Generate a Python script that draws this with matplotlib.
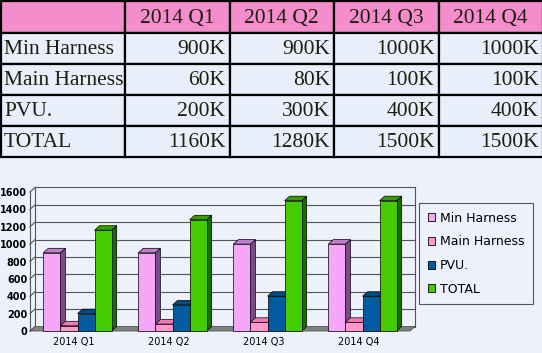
""" Quarterly harness volumes: table plus 3D-style bar chart """

import matplotlib.pyplot as plt
import numpy as np
from matplotlib.patches import Patch, Polygon, Rectangle

# Data
quarters = ["2014 Q1", "2014 Q2", "2014 Q3", "2014 Q4"]
series_names = ["Min Harness", "Main Harness", "PVU.", "TOTAL"]
min_harness = [900, 900, 1000, 1000]
main_harness = [60, 80, 100, 100]
pvu = [200, 300, 400, 400]
total = [1160, 1280, 1500, 1500]
y_ticks = [0, 200, 400, 600, 800, 1000, 1200, 1400, 1600]

# Colours: (front, top, side)
bar_colors = [
    ("#F5A6F8", "#BC80CC", "#7B4A8C"),
    ("#FF99CC", "#F07AB8", "#B0608A"),
    ("#005C9E", "#004A80", "#003B66"),
    ("#44CC00", "#2FA000", "#1D6A00"),
]
BG = "#EDF1FB"
CELL_BG = "#E8EEFA"
HEADER_BG = "#F58CCB"
TEXT_C = "#1E1E0E"

W, H = 542, 353
fig = plt.figure(figsize=(W / 100, H / 100), dpi=100)
fig.patch.set_facecolor(BG)

# ---------------- Table ----------------
tab = fig.add_axes([0, 1 - 160 / H, 1, 160 / H])
tab.set_xlim(0, W)
tab.set_ylim(160, 0)
tab.axis("off")

col_w = [124, 104.5, 104.5, 104.5, 104.5]
col_x = np.concatenate([[1], 1 + np.cumsum(col_w)])
row_h = [32, 31, 31, 31, 31]
row_y = np.concatenate([[1], 1 + np.cumsum(row_h)])

table_values = [min_harness, main_harness, pvu, total]
for r in range(5):
    for c in range(5):
        x0, x1 = col_x[c], col_x[c + 1]
        y0, y1 = row_y[r], row_y[r + 1]
        face = HEADER_BG if r == 0 else CELL_BG
        tab.add_patch(Rectangle((x0, y0), x1 - x0, y1 - y0, facecolor=face,
                                edgecolor="black", linewidth=1.6))
        ymid = (y0 + y1) / 2 + 1
        if r == 0 and c > 0:
            tab.text((x0 + x1) / 2, ymid, quarters[c - 1], ha="center", va="center",
                     family="Liberation Serif", fontsize=15.5, color=TEXT_C)
        elif r > 0 and c == 0:
            tab.text(x0 + 3, ymid, series_names[r - 1], ha="left", va="center",
                     family="Liberation Serif", fontsize=15.5, color=TEXT_C)
        elif r > 0:
            tab.text(x1 - 4, ymid, f"{table_values[r - 1][c - 1]}K", ha="right",
                     va="center", family="Liberation Serif", fontsize=15.5, color=TEXT_C)

# ---------------- Chart ----------------
ax_px = (30, 22, 380, 139)  # left, bottom, width, height in pixels
ax = fig.add_axes([ax_px[0] / W, ax_px[1] / H, ax_px[2] / W, ax_px[3] / H])
ax.set_facecolor("none")
xmin, xmax = -0.5, len(quarters) - 0.5
ax.set_xlim(xmin, xmax)
ax.set_ylim(0, 1600)
for s in ax.spines.values():
    s.set_visible(False)

# Depth of the 3D effect, converted to data units
depth_px = 5
dx = depth_px * (xmax - xmin) / ax_px[2]
dy = 4.5 * 1600 / ax_px[3]

# Back wall grid lines and borders
for v in y_ticks:
    ax.plot([xmin + dx, xmax + dx], [v + dy, v + dy], color="#555555", lw=0.8,
            clip_on=False, zorder=1)
    ax.plot([xmin, xmin + dx], [v, v + dy], color="#555555", lw=0.8,
            clip_on=False, zorder=1)
ax.plot([xmin + dx, xmin + dx], [dy, 1600 + dy], color="#555555", lw=0.8, clip_on=False, zorder=1)
ax.plot([xmax + dx, xmax + dx], [dy, 1600 + dy], color="#555555", lw=0.8, clip_on=False, zorder=1)
ax.plot([xmin, xmin], [0, 1600], color="#555555", lw=0.8, clip_on=False, zorder=1)

# Floor
ax.add_patch(Polygon([(xmin, 0), (xmax, 0), (xmax + dx, dy), (xmin + dx, dy)],
                     closed=True, facecolor="#808080", edgecolor="#555555", lw=0.6,
                     clip_on=False, zorder=2))

# Bars
series = [min_harness, main_harness, pvu, total]
bw = 0.18
x = np.arange(len(quarters))
z = 3
for qi in range(len(quarters)):
    for si, vals in enumerate(series):
        front, top, side = bar_colors[si]
        left = x[qi] - 2 * bw + si * bw
        h = vals[qi]
        ax.add_patch(Polygon([(left + bw, 0), (left + bw + dx, dy), (left + bw + dx, h + dy),
                              (left + bw, h)], closed=True, facecolor=side,
                             edgecolor="black", lw=0.5, zorder=z, clip_on=False))
        ax.add_patch(Polygon([(left, h), (left + bw, h), (left + bw + dx, h + dy),
                              (left + dx, h + dy)], closed=True, facecolor=top,
                             edgecolor="black", lw=0.5, zorder=z, clip_on=False))
        ax.bar(left, h, bw, align="edge", color=front, edgecolor="black", lw=0.5,
               zorder=z + 0.5, clip_on=False)
        z += 1

ax.set_xticks(x - 0.04)
ax.set_xticklabels(quarters, fontsize=7, color="black")
ax.set_yticks(y_ticks)
ax.set_yticklabels([str(v) for v in y_ticks], fontsize=7, fontweight="bold")
ax.tick_params(axis="x", length=0, pad=4)
ax.tick_params(axis="y", length=0, pad=2)

# Legend
handles = [Patch(facecolor=c[0], edgecolor="black", lw=0.6) for c in bar_colors]
leg = fig.legend(handles, series_names, loc="upper left",
                 bbox_to_anchor=(419 / W, 1 - 203 / H), fontsize=9,
                 frameon=True, fancybox=False, edgecolor="#555555",
                 facecolor=BG, framealpha=1, handlelength=0.6, handleheight=0.6,
                 handletextpad=0.35, labelspacing=0.85, borderpad=0.7,
                 borderaxespad=0)
leg.get_frame().set_linewidth(0.8)

plt.savefig("out.png", dpi=100, facecolor=fig.get_facecolor())
